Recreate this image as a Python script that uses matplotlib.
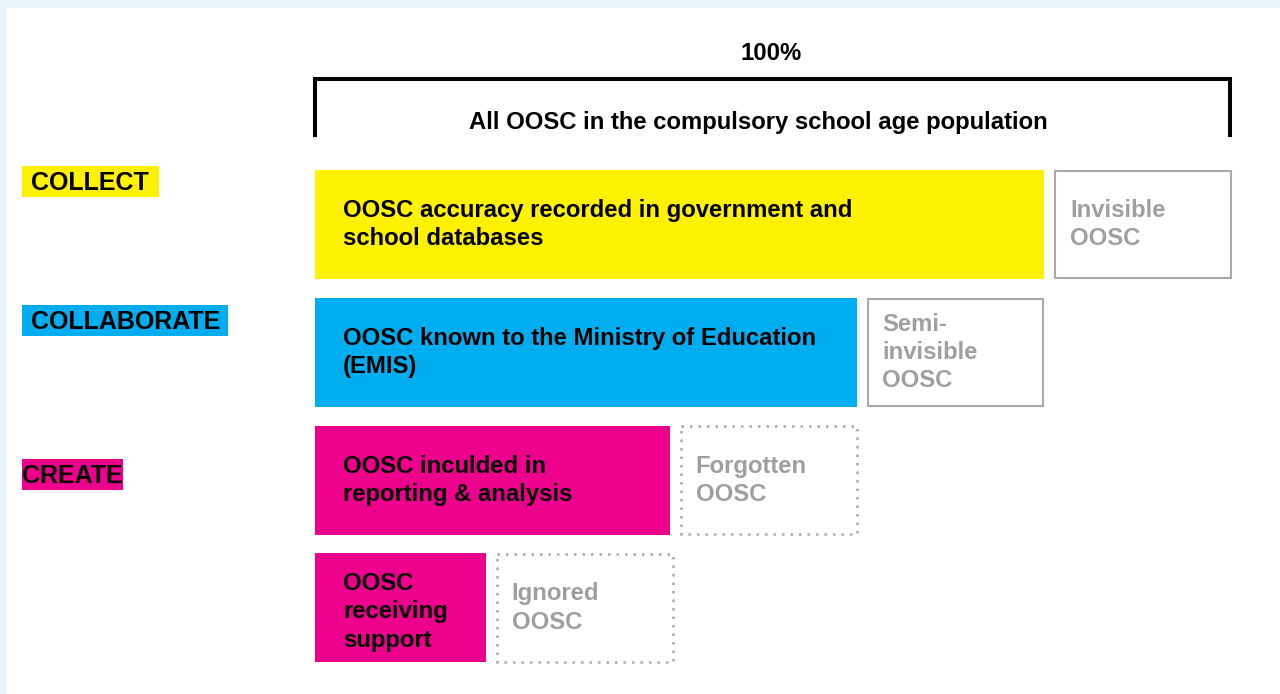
import matplotlib
matplotlib.use("Agg")
import matplotlib.pyplot as plt
from matplotlib.patches import Rectangle

plt.rcParams['font.family'] = ['Liberation Sans', 'DejaVu Sans']

# ---- data ----
stage_labels = ['COLLECT', 'COLLABORATE', 'CREATE']
stage_colors = ['#fff200', '#00aeef', '#ec008c']
bar_labels = ['OOSC accuracy recorded in government and\nschool databases',
              'OOSC known to the Ministry of Education\n(EMIS)',
              'OOSC inculded in\nreporting & analysis',
              'OOSC\nreceiving\nsupport']
bar_values = [79.7, 59.2, 38.8, 18.7]          # % of all OOSC
bar_colors = ['#fff200', '#00aeef', '#ec008c', '#ec008c']
gap_labels = ['Invisible\nOOSC', 'Semi-\ninvisible\nOOSC', 'Forgotten\nOOSC', 'Ignored\nOOSC']
gap_styles = ['solid', 'solid', 'dotted', 'dotted']
total_label = '100%'
total_caption = 'All OOSC in the compulsory school age population'

# ---- figure ----
W, H = 1280, 694
fig = plt.figure(figsize=(W / 100, H / 100), dpi=100, facecolor='#e6f4fb')
fig.patches.append(Rectangle((6 / W, 0), 1 - 6 / W, 1 - 8 / H, transform=fig.transFigure,
                             facecolor='white', edgecolor='none', zorder=-5))
ax = fig.add_axes([0, 0, 1, 1], zorder=2)
ax.patch.set_alpha(0)
X0, X1 = -34.43, 105.46
Y0, Y1 = -1.757, 3.673
ax.set_xlim(X0, X1)
ax.set_ylim(Y1, Y0)
ax.axis('off')


def px_x(p):
    return X0 + (X1 - X0) * p / W


def px_y(p):
    return Y0 + (Y1 - Y0) * p / H


rows = list(range(len(bar_values)))
bh = 0.853
box_gap = 1.2
box_w = 19.2
grey_edge = '#a7a9ac'
grey_text = '#9d9fa2'
fs = 17.2
ls = 1.29

ax.barh(rows, bar_values, height=bh, left=0, color=bar_colors, edgecolor='none')
for r, v, lab, st in zip(rows, bar_values, gap_labels, gap_styles):
    if st == 'solid':
        ax.barh(r, box_w, height=bh * 0.985, left=v + box_gap, fill=False,
                edgecolor=grey_edge, linewidth=1.5)
    else:
        ax.barh(r, box_w, height=bh * 0.985, left=v + box_gap, fill=False,
                edgecolor=grey_edge, linewidth=1.8, linestyle=(0, (1, 2.4)))
    ax.text(v + box_gap + 1.6, r, lab, ha='left', va='center', fontsize=fs,
            fontweight='bold', color=grey_text, linespacing=ls)

for r, lab in zip(rows, bar_labels):
    ax.text(3.06, r + (0.03 if r == 3 else 0), lab, ha='left', va='center', fontsize=fs,
            fontweight='bold', color='black', linespacing=ls)

# bracket for 100%
ax.plot([0, 0, 100, 100], [-0.685, -1.139, -1.139, -0.685], color='black',
        linewidth=2.9, solid_joinstyle='miter', solid_capstyle='butt')
ax.text(49.9, px_y(54), total_label, ha='center', va='center', fontsize=fs,
        fontweight='bold')
ax.text(48.4, px_y(122), total_caption, ha='center', va='center', fontsize=fs,
        fontweight='bold')

# stage labels (coloured tags)
tag_left = [22, 22, 22]
tag_right = [159, 228, 123]
tag_top = [166, 305, 459]
tag_text_x = [31, 31, 22]
tag_h = 31
for lab, col, l, r, t, tx in zip(stage_labels, stage_colors, tag_left, tag_right,
                                 tag_top, tag_text_x):
    ax.add_patch(Rectangle((px_x(l), px_y(t)), px_x(r) - px_x(l),
                           px_y(t + tag_h) - px_y(t), facecolor=col, edgecolor='none'))
    ax.text(px_x(tx), px_y(t + tag_h / 2 + 9), lab, ha='left', va='baseline',
            fontsize=18, fontweight='bold', color='black')

fig.savefig('out.png', dpi=100, facecolor=fig.get_facecolor())
